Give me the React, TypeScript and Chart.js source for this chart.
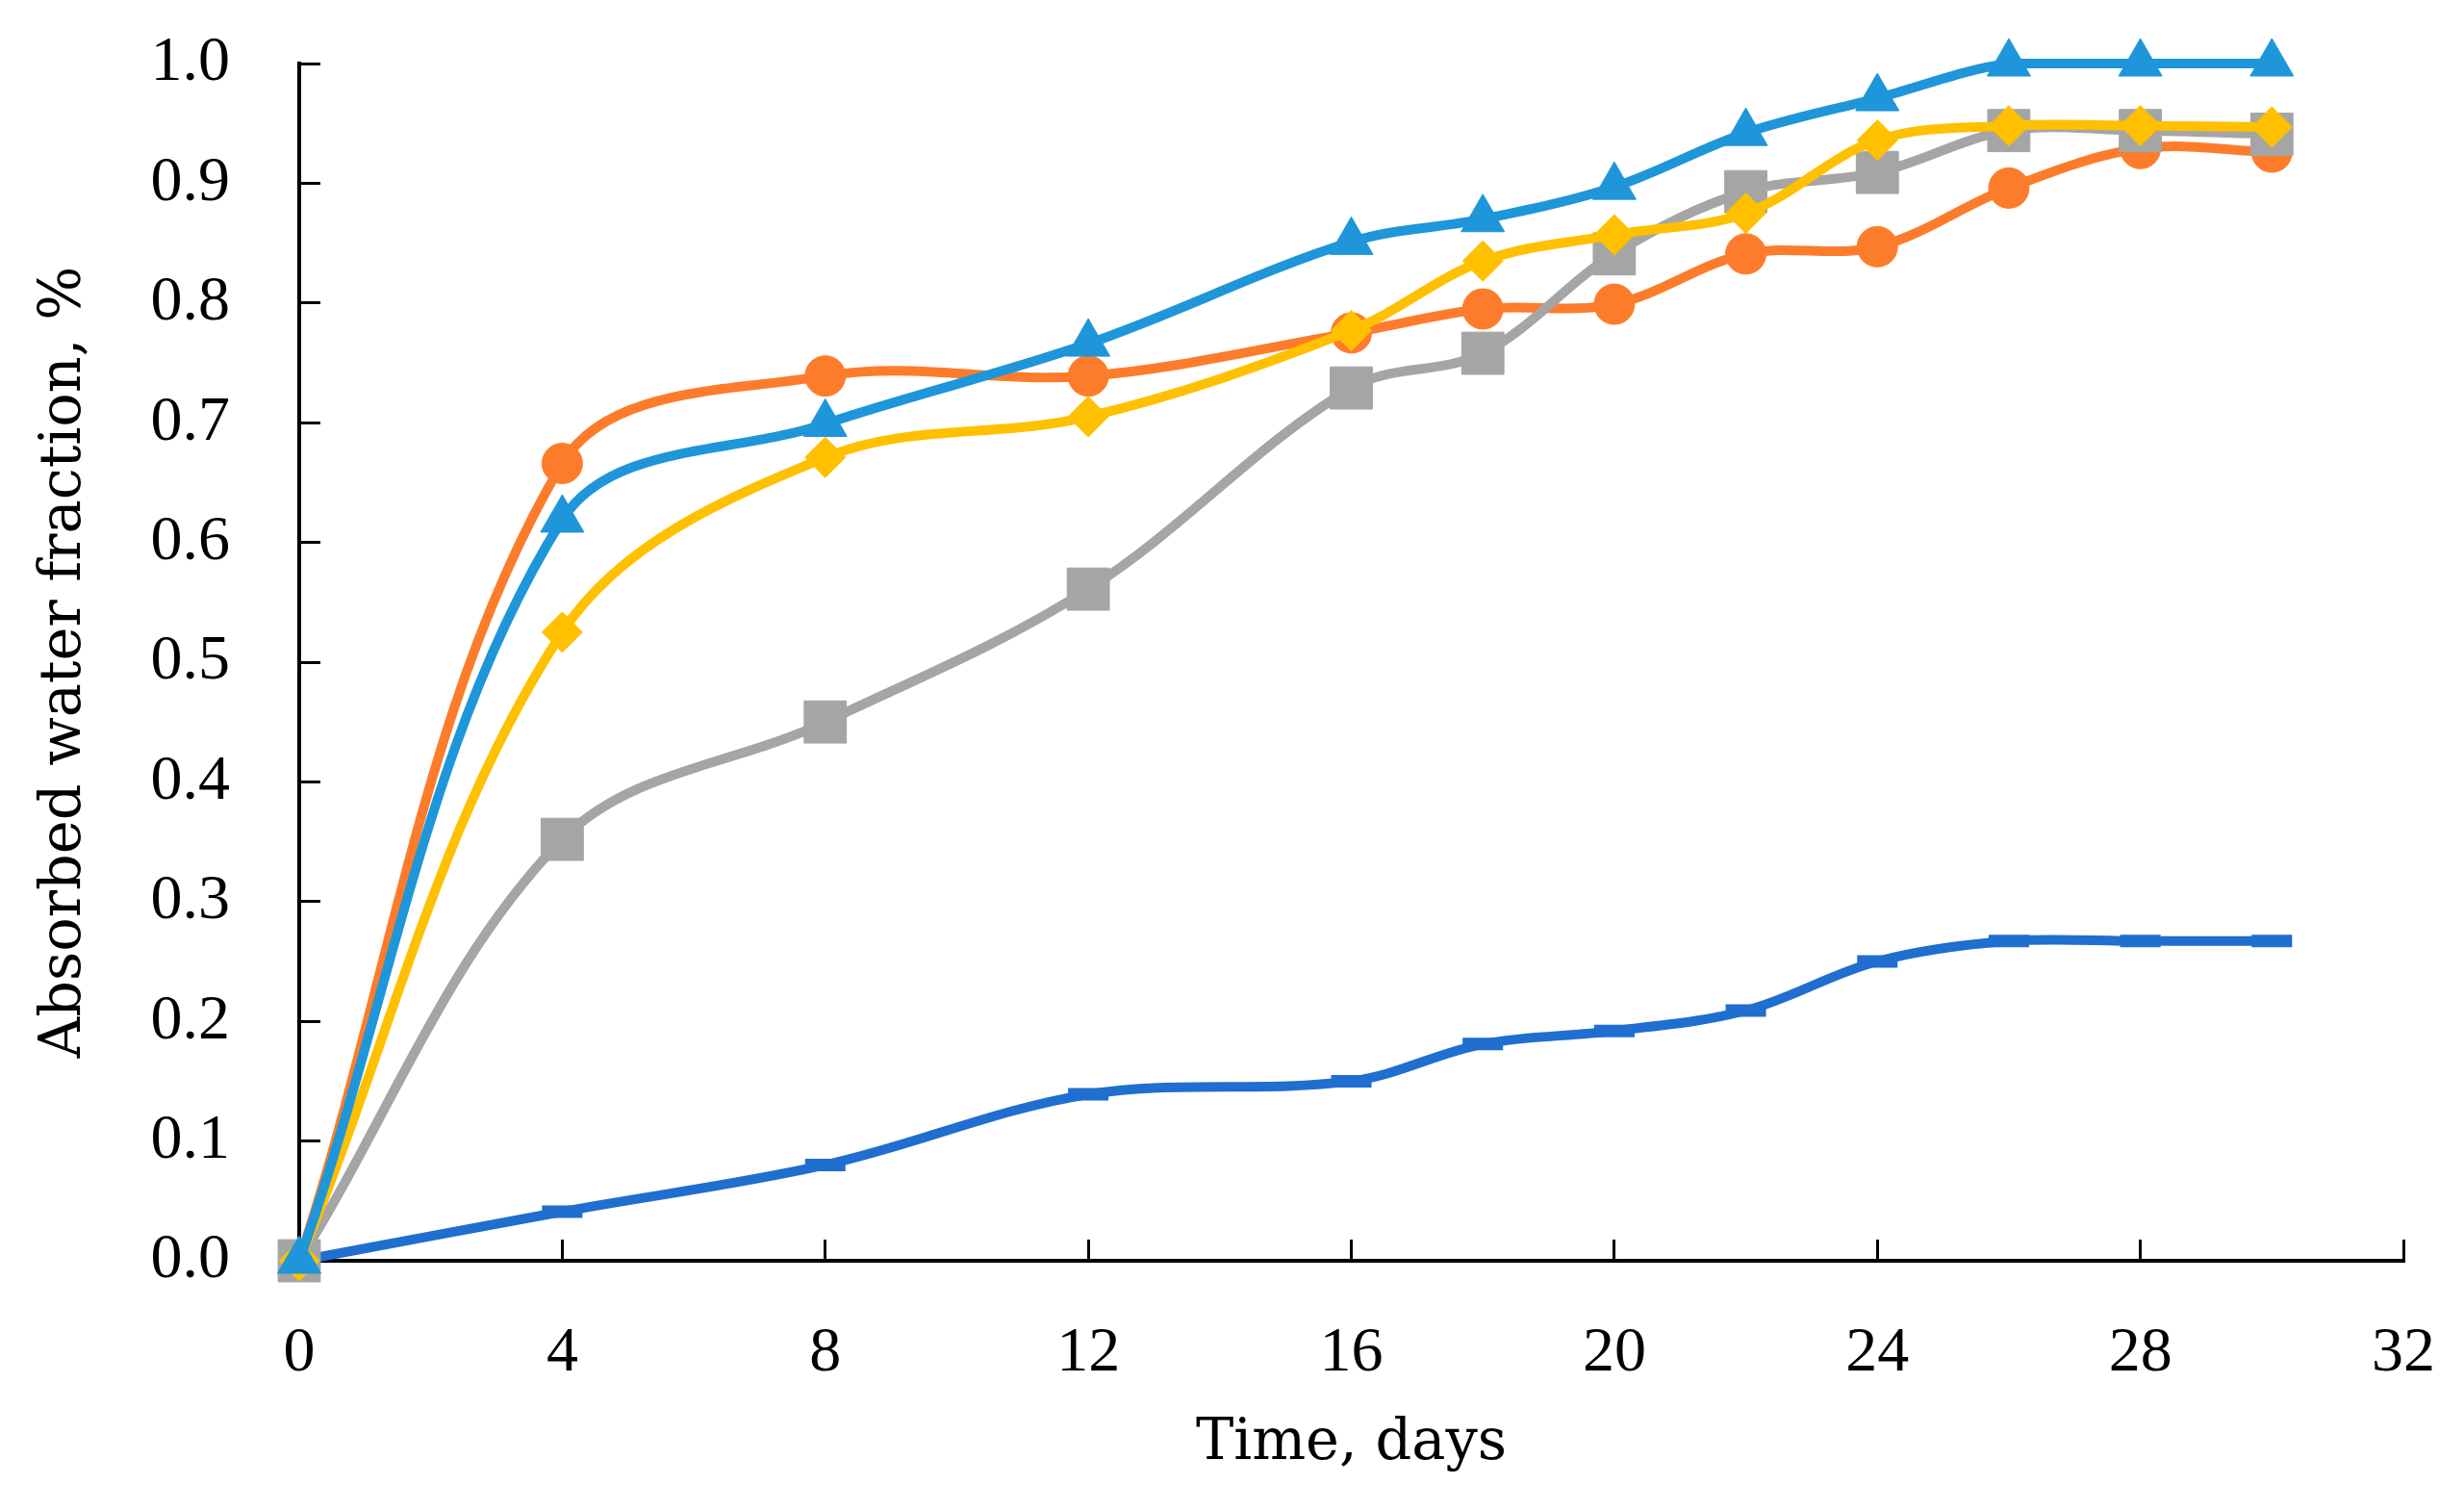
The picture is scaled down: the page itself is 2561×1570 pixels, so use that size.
import React, { useEffect, useRef } from "react";
import { Chart, registerables } from "chart.js";

Chart.register(...registerables);

// time points, days
const days = [0, 4, 8, 12, 16, 18, 20, 22, 24, 26, 28, 30];

// absorbed water fraction per series
const darkBlueSeries = [0, 0.041, 0.08, 0.139, 0.15, 0.181, 0.192, 0.209, 0.25, 0.267, 0.267, 0.267];
const orangeSeries = [0, 0.666, 0.739, 0.739, 0.775, 0.795, 0.799, 0.841, 0.847, 0.896, 0.929, 0.926];
const graySeries = [0, 0.352, 0.45, 0.561, 0.729, 0.758, 0.841, 0.893, 0.909, 0.944, 0.944, 0.941];
const yellowSeries = [0, 0.525, 0.671, 0.705, 0.777, 0.835, 0.857, 0.875, 0.936, 0.948, 0.948, 0.947];
const lightBlueSeries = [0, 0.619, 0.699, 0.766, 0.851, 0.87, 0.897, 0.942, 0.971, 1.0, 1.0, 1.0];

const xTitle = "Time, days";
const yTitle = "Absorbed water fraction, %";

const toPoints = (values: number[]) => values.map((v, i) => ({ x: days[i], y: v }));

const tickFont = { family: "'Liberation Serif', serif", size: 66, lineHeight: 1.2 };
const titleFont = { family: "'DejaVu Serif', serif", size: 59, lineHeight: 1.2 };

const lineDefaults = {
    borderWidth: 10,
    tension: 0.35,
    borderCapStyle: "round" as const,
    borderJoinStyle: "round" as const,
    pointBorderWidth: 1,
    clip: false as const,
};

const App = () => {
    const canvasRef = useRef<HTMLCanvasElement | null>(null);

    useEffect(() => {
        document.body.style.margin = "0";
        document.body.style.overflow = "hidden";

        const ctx = canvasRef.current?.getContext("2d");
        if (!ctx) return;

        const chart = new Chart(ctx, {
            type: "line",
            data: {
                datasets: [
                    {
                        ...lineDefaults,
                        label: "light blue",
                        data: toPoints(lightBlueSeries),
                        borderColor: "#1E96D9",
                        backgroundColor: "#1E96D9",
                        pointBackgroundColor: "#1E96D9",
                        pointBorderColor: "#1E96D9",
                        pointStyle: "triangle",
                        pointRadius: 26,
                    },
                    {
                        ...lineDefaults,
                        label: "yellow",
                        data: toPoints(yellowSeries),
                        borderColor: "#FFC000",
                        backgroundColor: "#FFC000",
                        pointBackgroundColor: "#FFC000",
                        pointBorderColor: "#FFC000",
                        pointStyle: "rectRot",
                        pointRadius: 21,
                    },
                    {
                        ...lineDefaults,
                        label: "gray",
                        data: toPoints(graySeries),
                        borderColor: "#A5A5A5",
                        backgroundColor: "#A5A5A5",
                        pointBackgroundColor: "#A5A5A5",
                        pointBorderColor: "#A5A5A5",
                        pointStyle: "rect",
                        pointRadius: 31,
                    },
                    {
                        ...lineDefaults,
                        label: "orange",
                        data: toPoints(orangeSeries),
                        borderColor: "#FD7C2B",
                        backgroundColor: "#FD7C2B",
                        pointBackgroundColor: "#FD7C2B",
                        pointBorderColor: "#FD7C2B",
                        pointStyle: "circle",
                        pointRadius: 21,
                    },
                    {
                        ...lineDefaults,
                        label: "dark blue",
                        data: toPoints(darkBlueSeries),
                        borderColor: "#1F6ED0",
                        backgroundColor: "#1F6ED0",
                        pointBackgroundColor: "#1F6ED0",
                        pointBorderColor: "#1F6ED0",
                        pointStyle: "line",
                        pointRadius: 21,
                        pointBorderWidth: 13,
                    },
                ],
            },
            options: {
                animation: false,
                responsive: true,
                maintainAspectRatio: false,
                devicePixelRatio: 1,
                layout: { padding: { top: 66, right: 63, left: 0, bottom: 0 } },
                plugins: {
                    legend: { display: false },
                    tooltip: { enabled: false },
                },
                scales: {
                    x: {
                        type: "linear",
                        min: 0,
                        max: 32,
                        ticks: {
                            stepSize: 4,
                            font: tickFont,
                            color: "#000",
                            padding: 79,
                            maxRotation: 0,
                        },
                        grid: {
                            drawOnChartArea: false,
                            drawTicks: true,
                            tickLength: -22,
                            color: "#000",
                            lineWidth: 3,
                        },
                        border: { display: true, color: "#000", width: 4 },
                        title: {
                            display: true,
                            text: xTitle,
                            font: titleFont,
                            color: "#000",
                            padding: { top: 0, bottom: 34 },
                        },
                        afterFit: (scale: any) => {
                            scale.height = 260;
                            scale.paddingLeft = 0;
                            scale.paddingRight = 0;
                        },
                    },
                    y: {
                        type: "linear",
                        min: 0,
                        max: 1,
                        ticks: {
                            stepSize: 0.1,
                            font: tickFont,
                            color: "#000",
                            padding: 94,
                            callback: (v: any) => Number(v).toFixed(1),
                        },
                        grid: {
                            drawOnChartArea: false,
                            drawTicks: true,
                            tickLength: -22,
                            color: "#000",
                            lineWidth: 3,
                        },
                        border: { display: true, color: "#000", width: 4 },
                        title: {
                            display: true,
                            text: yTitle,
                            font: titleFont,
                            color: "#000",
                            padding: { top: 32, bottom: 0 },
                        },
                        afterFit: (scale: any) => {
                            scale.width = 311;
                            scale.paddingTop = 0;
                            scale.paddingBottom = 0;
                        },
                    },
                },
            },
        });

        return () => {
            chart.destroy();
        };
    }, []);

    return (
        <div style={{ position: "relative", width: "2561px", height: "1570px", background: "#fff" }}>
            <canvas ref={canvasRef} />
        </div>
    );
};

export default App;
